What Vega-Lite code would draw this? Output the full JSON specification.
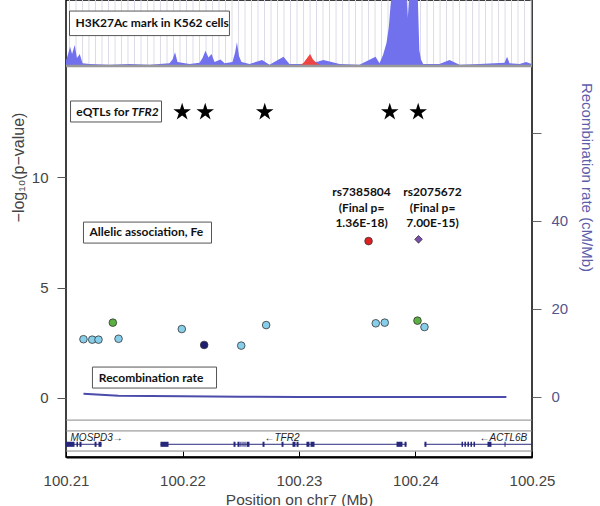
{
  "$schema": "https://vega.github.io/schema/vega-lite/v6.json",
  "width": 466,
  "height": 457,
  "autosize": "none",
  "padding": {"left": 66, "top": 0, "right": 68, "bottom": 49},
  "background": "white",
  "config": {
    "view": {"stroke": "#000", "strokeWidth": 1.5},
    "axis": {"grid": false, "domain": false, "labelFont": "Liberation Sans", "titleFont": "Liberation Sans", "labelFontSize": 15, "titleFontSize": 15, "titleFontWeight": "normal", "labelColor": "#444", "titleColor": "#444", "tickColor": "#555"}
  },
  "datasets": {
    "guides": [
      {"pos": 100.21030}, {"pos": 100.21086}, {"pos": 100.21142}, {"pos": 100.21197}, {"pos": 100.21253}, {"pos": 100.21309}, {"pos": 100.21365}, {"pos": 100.21421}, {"pos": 100.21476}, {"pos": 100.21532},
      {"pos": 100.21588}, {"pos": 100.21644}, {"pos": 100.21700}, {"pos": 100.21755}, {"pos": 100.21811}, {"pos": 100.21867}, {"pos": 100.21923}, {"pos": 100.21979}, {"pos": 100.22034}, {"pos": 100.22090},
      {"pos": 100.22146}, {"pos": 100.22202}, {"pos": 100.22258}, {"pos": 100.22313}, {"pos": 100.22369}, {"pos": 100.22425}, {"pos": 100.22481}, {"pos": 100.22537}, {"pos": 100.22592}, {"pos": 100.22648},
      {"pos": 100.22704}, {"pos": 100.22760}, {"pos": 100.22816}, {"pos": 100.22871}, {"pos": 100.22927}, {"pos": 100.22983}, {"pos": 100.23039}, {"pos": 100.23095}, {"pos": 100.23150}, {"pos": 100.23206},
      {"pos": 100.23262}, {"pos": 100.23318}, {"pos": 100.23374}, {"pos": 100.23429}, {"pos": 100.23485}, {"pos": 100.23541}, {"pos": 100.23597}, {"pos": 100.23653}, {"pos": 100.23708}, {"pos": 100.23764},
      {"pos": 100.23820}, {"pos": 100.23876}, {"pos": 100.23932}, {"pos": 100.23987}, {"pos": 100.24043}, {"pos": 100.24099}, {"pos": 100.24155}, {"pos": 100.24211}, {"pos": 100.24266}, {"pos": 100.24322},
      {"pos": 100.24378}, {"pos": 100.24434}, {"pos": 100.24490}, {"pos": 100.24545}, {"pos": 100.24601}, {"pos": 100.24657}, {"pos": 100.24713}, {"pos": 100.24769}, {"pos": 100.24824}, {"pos": 100.24880},
      {"pos": 100.24936}, {"pos": 100.24992}
    ],
    "h3_blue": [
      {"pos": 100.21000, "sig": 0.8}, {"pos": 100.21013, "sig": 1.5}, {"pos": 100.21035, "sig": 2.9}, {"pos": 100.21052, "sig": 1.8}, {"pos": 100.21075, "sig": 3.2},
      {"pos": 100.21094, "sig": 1.2}, {"pos": 100.21118, "sig": 1.8}, {"pos": 100.21142, "sig": 0.4}, {"pos": 100.21202, "sig": 0.3}, {"pos": 100.21373, "sig": 0.2},
      {"pos": 100.21545, "sig": 0.3}, {"pos": 100.21717, "sig": 0.2}, {"pos": 100.21888, "sig": 0.4}, {"pos": 100.21914, "sig": 1.0}, {"pos": 100.21936, "sig": 2.1},
      {"pos": 100.21957, "sig": 0.6}, {"pos": 100.22060, "sig": 0.3}, {"pos": 100.22146, "sig": 0.5}, {"pos": 100.22172, "sig": 1.2}, {"pos": 100.22197, "sig": 2.3},
      {"pos": 100.22223, "sig": 1.3}, {"pos": 100.22249, "sig": 1.8}, {"pos": 100.22275, "sig": 0.6}, {"pos": 100.22326, "sig": 1.0}, {"pos": 100.22361, "sig": 0.4},
      {"pos": 100.22429, "sig": 0.6}, {"pos": 100.22451, "sig": 2.0}, {"pos": 100.22467, "sig": 3.6}, {"pos": 100.22485, "sig": 1.5}, {"pos": 100.22506, "sig": 0.6},
      {"pos": 100.22575, "sig": 0.3}, {"pos": 100.22683, "sig": 0.9}, {"pos": 100.22747, "sig": 0.2}, {"pos": 100.22867, "sig": 1.4}, {"pos": 100.22918, "sig": 0.3},
      {"pos": 100.23090, "sig": 0.3}, {"pos": 100.23210, "sig": 0.9}, {"pos": 100.23348, "sig": 0.3}, {"pos": 100.23519, "sig": 0.2}, {"pos": 100.23657, "sig": 1.4},
      {"pos": 100.23691, "sig": 0.4}, {"pos": 100.23722, "sig": 1.7}, {"pos": 100.23751, "sig": 3.5}, {"pos": 100.23771, "sig": 5.9}, {"pos": 100.23785, "sig": 9.0},
      {"pos": 100.23803, "sig": 12}, {"pos": 100.23918, "sig": 12}, {"pos": 100.23934, "sig": 7.3}, {"pos": 100.23951, "sig": 12}, {"pos": 100.24017, "sig": 12},
      {"pos": 100.24033, "sig": 2.4}, {"pos": 100.24047, "sig": 1.0}, {"pos": 100.24066, "sig": 0.3}, {"pos": 100.24206, "sig": 0.3}, {"pos": 100.24292, "sig": 0.9},
      {"pos": 100.24378, "sig": 0.2}, {"pos": 100.24549, "sig": 0.3}, {"pos": 100.24764, "sig": 0.5}, {"pos": 100.24786, "sig": 1.4}, {"pos": 100.24807, "sig": 0.4},
      {"pos": 100.24893, "sig": 0.3}, {"pos": 100.24950, "sig": 0.6}, {"pos": 100.24996, "sig": 0.3}
    ],
    "h3_red": [
      {"pos": 100.23000, "sig": 0}, {"pos": 100.23040, "sig": 0.5}, {"pos": 100.23070, "sig": 1.2}, {"pos": 100.23095, "sig": 1.8},
      {"pos": 100.23120, "sig": 1.0}, {"pos": 100.23160, "sig": 0.3}, {"pos": 100.23200, "sig": 0}
    ],
    "recomb": [
      {"pos": 100.2115, "rate": 0.75}, {"pos": 100.2130, "rate": 0.5}, {"pos": 100.2145, "rate": 0.3}, {"pos": 100.2200, "rate": 0.15},
      {"pos": 100.2250, "rate": 0.05}, {"pos": 100.2300, "rate": 0.0}, {"pos": 100.2400, "rate": 0.0}, {"pos": 100.2478, "rate": 0.0}
    ],
    "boxes": [
      {"pos": 100.21030, "pos2": 100.22403, "top": 17.51, "bot": 16.40},
      {"pos": 100.21039, "pos2": 100.21820, "top": 13.44, "bot": 12.49},
      {"pos": 100.21150, "pos2": 100.22249, "top": 7.96, "bot": 7.01},
      {"pos": 100.21227, "pos2": 100.22292, "top": 1.40, "bot": 0.45}
    ],
    "labels": [
      {"pos": 100.21082, "p": 16.96, "text": "H3K27Ac mark in K562 cells"},
      {"pos": 100.21088, "p": 12.94, "text": "eQTLs for"},
      {"pos": 100.21202, "p": 7.50, "text": "Allelic association,  Fe"},
      {"pos": 100.21282, "p": 0.92, "text": "Recombination rate"}
    ],
    "labels_it": [
      {"pos": 100.21562, "p": 12.94, "text": "TFR2"}
    ],
    "genes": [
      {"pos": 100.21000, "pos2": 100.21305},
      {"pos": 100.21811, "pos2": 100.23923},
      {"pos": 100.24077, "pos2": 100.25000}
    ],
    "exons": [
      {"pos": 100.21000, "pos2": 100.21073}, {"pos": 100.21090, "pos2": 100.21103}, {"pos": 100.21116, "pos2": 100.21133},
      {"pos": 100.21245, "pos2": 100.21262}, {"pos": 100.21279, "pos2": 100.21305},
      {"pos": 100.21811, "pos2": 100.21880}, {"pos": 100.22438, "pos2": 100.22455}, {"pos": 100.22472, "pos2": 100.22490},
      {"pos": 100.22497, "pos2": 100.22506}, {"pos": 100.22515, "pos2": 100.22524}, {"pos": 100.22532, "pos2": 100.22541},
      {"pos": 100.22550, "pos2": 100.22575}, {"pos": 100.22687, "pos2": 100.22704}, {"pos": 100.22850, "pos2": 100.22867},
      {"pos": 100.22944, "pos2": 100.22970}, {"pos": 100.22979, "pos2": 100.22996}, {"pos": 100.23064, "pos2": 100.23090},
      {"pos": 100.23099, "pos2": 100.23133}, {"pos": 100.23837, "pos2": 100.23888}, {"pos": 100.23906, "pos2": 100.23923},
      {"pos": 100.24077, "pos2": 100.24094}, {"pos": 100.24395, "pos2": 100.24408}, {"pos": 100.24420, "pos2": 100.24433},
      {"pos": 100.24446, "pos2": 100.24459}, {"pos": 100.24472, "pos2": 100.24485}, {"pos": 100.24498, "pos2": 100.24511},
      {"pos": 100.24618, "pos2": 100.24652}, {"pos": 100.24764, "pos2": 100.24773}
    ],
    "gene_labels": [
      {"pos": 100.21039, "text": "MOSPD3→"},
      {"pos": 100.22704, "text": "←TFR2"},
      {"pos": 100.24549, "text": "←ACTL6B"}
    ],
    "stars": [
      {"pos": 100.21997, "p": 12.94}, {"pos": 100.22195, "p": 12.94}, {"pos": 100.22706, "p": 12.94},
      {"pos": 100.23779, "p": 12.94}, {"pos": 100.24023, "p": 12.94}
    ],
    "snps": [
      {"pos": 100.21150, "p": 2.66, "cat": "lb"},
      {"pos": 100.21225, "p": 2.64, "cat": "lb"},
      {"pos": 100.21279, "p": 2.64, "cat": "lb"},
      {"pos": 100.21402, "p": 3.41, "cat": "green"},
      {"pos": 100.21451, "p": 2.68, "cat": "lb"},
      {"pos": 100.21994, "p": 3.12, "cat": "lb"},
      {"pos": 100.22186, "p": 2.40, "cat": "navy"},
      {"pos": 100.22504, "p": 2.37, "cat": "lb"},
      {"pos": 100.22718, "p": 3.30, "cat": "lb"},
      {"pos": 100.23659, "p": 3.38, "cat": "lb"},
      {"pos": 100.23736, "p": 3.41, "cat": "lb"},
      {"pos": 100.24017, "p": 3.50, "cat": "green"},
      {"pos": 100.24077, "p": 3.21, "cat": "lb"},
      {"pos": 100.23597, "p": 7.10, "cat": "red"},
      {"pos": 100.24026, "p": 7.18, "cat": "purple"}
    ],
    "snp_labels": [
      {"pos": 100.23537, "p": 9.32, "text": "rs7385804\n(Final p=\n1.36E-18)"},
      {"pos": 100.24146, "p": 9.32, "text": "rs2075672\n(Final p=\n7.00E-15)"}
    ]
  },
  "layer": [
    {
      "data": {"name": "guides"},
      "mark": {"type": "rule", "color": "#dcdce8", "strokeWidth": 1},
      "encoding": {
        "x": {
          "field": "pos", "type": "quantitative", "scale": {"domain": [100.21, 100.25]},
          "axis": {"orient": "bottom", "values": [100.21, 100.22, 100.23, 100.24, 100.25], "format": ".2f", "title": "Position on chr7 (Mb)", "domain": true, "domainColor": "#000", "domainWidth": 2, "tickSize": -6, "tickColor": "#000", "labelFlush": false, "labelOverlap": false, "labelPadding": 22, "titlePadding": 4, "titleFontSize": 15.5}
        },
        "y": {"datum": 0, "type": "quantitative", "scale": {"domain": [-59.24, 10]}, "axis": null},
        "y2": {"datum": 10}
      }
    },
    {
      "data": {"name": "h3_blue"},
      "mark": {"type": "area", "color": "#7171ee", "clip": true, "opacity": 1},
      "encoding": {
        "x": {"field": "pos", "type": "quantitative", "scale": {"domain": [100.21, 100.25]}},
        "y": {"field": "sig", "type": "quantitative", "scale": {"domain": [-59.24, 10]}, "axis": null},
        "y2": {"datum": 0}
      }
    },
    {
      "data": {"name": "h3_red"},
      "mark": {"type": "area", "color": "#ee4444", "clip": true, "opacity": 1},
      "encoding": {
        "x": {"field": "pos", "type": "quantitative", "scale": {"domain": [100.21, 100.25]}},
        "y": {"field": "sig", "type": "quantitative", "scale": {"domain": [-59.24, 10]}, "axis": null},
        "y2": {"datum": 0}
      }
    },
    {
      "data": {"name": "recomb"},
      "mark": {"type": "line", "color": "#4b4bab", "strokeWidth": 2},
      "encoding": {
        "x": {"field": "pos", "type": "quantitative", "scale": {"domain": [100.21, 100.25]}},
        "y": {
          "field": "rate", "type": "quantitative", "scale": {"domain": [-13.64, 90.23]},
          "axis": {"orient": "right", "values": [0, 20, 40, 60], "labelExpr": "datum.value == 60 ? '' : datum.label", "title": "Recombination rate (cM/Mb)", "titleAngle": 90, "titleY": 177, "titleColor": "#5d5dab", "labelColor": "#55558c", "tickColor": "#666", "tickSize": 9, "labelPadding": 10, "titlePadding": 11}
        }
      }
    },
    {
      "data": {"values": [{}]},
      "mark": {"type": "rule", "color": "#999", "strokeWidth": 2.5},
      "encoding": {"y": {"datum": 15.02, "type": "quantitative", "scale": {"domain": [-2.67, 18.01]}, "axis": null}}
    },
    {
      "data": {"values": [{}]},
      "mark": {"type": "rule", "color": "#888", "strokeWidth": 1},
      "encoding": {"y": {"datum": -1.0, "type": "quantitative", "scale": {"domain": [-2.67, 18.01]}, "axis": null}}
    },
    {
      "data": {"values": [{}]},
      "mark": {"type": "rule", "color": "#888", "strokeWidth": 1},
      "encoding": {"y": {"datum": -1.49, "type": "quantitative", "scale": {"domain": [-2.67, 18.01]}, "axis": null}}
    },
    {
      "data": {"values": [{}]},
      "mark": {"type": "rule", "color": "#888", "strokeWidth": 1},
      "encoding": {"y": {"datum": -2.40, "type": "quantitative", "scale": {"domain": [-2.67, 18.01]}, "axis": null}}
    },
    {
      "data": {"name": "boxes"},
      "mark": {"type": "rect", "fill": "white", "stroke": "#555", "strokeWidth": 1},
      "encoding": {
        "x": {"field": "pos", "type": "quantitative", "scale": {"domain": [100.21, 100.25]}},
        "x2": {"field": "pos2"},
        "y": {"field": "top", "type": "quantitative", "scale": {"domain": [-2.67, 18.01]}, "axis": null},
        "y2": {"field": "bot"}
      }
    },
    {
      "data": {"name": "labels"},
      "mark": {"type": "text", "align": "left", "baseline": "middle", "font": "Lato", "fontWeight": "bold", "fontSize": 12, "color": "#111"},
      "encoding": {
        "x": {"field": "pos", "type": "quantitative", "scale": {"domain": [100.21, 100.25]}},
        "y": {"field": "p", "type": "quantitative", "scale": {"domain": [-2.67, 18.01]}, "axis": null},
        "text": {"field": "text"}
      }
    },
    {
      "data": {"name": "labels_it"},
      "mark": {"type": "text", "align": "left", "baseline": "middle", "font": "Lato", "fontWeight": "bold", "fontStyle": "italic", "fontSize": 12, "color": "#111"},
      "encoding": {
        "x": {"field": "pos", "type": "quantitative", "scale": {"domain": [100.21, 100.25]}},
        "y": {"field": "p", "type": "quantitative", "scale": {"domain": [-2.67, 18.01]}, "axis": null},
        "text": {"field": "text"}
      }
    },
    {
      "data": {"name": "genes"},
      "mark": {"type": "rule", "color": "#2b2b80", "strokeWidth": 1},
      "encoding": {
        "x": {"field": "pos", "type": "quantitative", "scale": {"domain": [100.21, 100.25]}},
        "x2": {"field": "pos2"},
        "y": {"datum": -2.095, "type": "quantitative", "scale": {"domain": [-2.67, 18.01]}, "axis": null}
      }
    },
    {
      "data": {"name": "exons"},
      "mark": {"type": "rect", "color": "#26267a"},
      "encoding": {
        "x": {"field": "pos", "type": "quantitative", "scale": {"domain": [100.21, 100.25]}},
        "x2": {"field": "pos2"},
        "y": {"datum": -1.98, "type": "quantitative", "scale": {"domain": [-2.67, 18.01]}, "axis": null},
        "y2": {"datum": -2.21}
      }
    },
    {
      "data": {"name": "gene_labels"},
      "mark": {"type": "text", "align": "left", "baseline": "middle", "font": "Liberation Sans", "fontStyle": "italic", "fontSize": 10, "color": "#222"},
      "encoding": {
        "x": {"field": "pos", "type": "quantitative", "scale": {"domain": [100.21, 100.25]}},
        "y": {"datum": -1.81, "type": "quantitative", "scale": {"domain": [-2.67, 18.01]}, "axis": null},
        "text": {"field": "text"}
      }
    },
    {
      "data": {"name": "stars"},
      "mark": {"type": "point", "shape": "M0,-1L0.2245,-0.309L0.951,-0.309L0.363,0.118L0.588,0.809L0,0.382L-0.588,0.809L-0.363,0.118L-0.951,-0.309L-0.2245,-0.309Z", "filled": true, "color": "#000", "size": 340, "opacity": 1},
      "encoding": {
        "x": {"field": "pos", "type": "quantitative", "scale": {"domain": [100.21, 100.25]}},
        "y": {"field": "p", "type": "quantitative", "scale": {"domain": [-2.67, 18.01]}, "axis": null}
      }
    },
    {
      "data": {"name": "snps"},
      "mark": {"type": "point", "filled": true, "stroke": "#333", "strokeWidth": 0.8, "opacity": 1},
      "encoding": {
        "x": {"field": "pos", "type": "quantitative", "scale": {"domain": [100.21, 100.25]}},
        "y": {
          "field": "p", "type": "quantitative", "scale": {"domain": [-2.67, 18.01]},
          "axis": {"orient": "left", "values": [0, 5, 10], "title": "−log₁₀(p−value)", "titleY": 167, "titleFontSize": 16, "tickSize": 9, "labelPadding": 9, "titlePadding": 5}
        },
        "color": {"field": "cat", "type": "nominal", "scale": {"domain": ["lb", "green", "navy", "red", "purple"], "range": ["#87ceeb", "#5ab040", "#1e1e70", "#e02020", "#7a4fa8"]}, "legend": null},
        "shape": {"field": "cat", "type": "nominal", "scale": {"domain": ["lb", "green", "navy", "red", "purple"], "range": ["circle", "circle", "circle", "circle", "diamond"]}, "legend": null},
        "size": {"field": "cat", "type": "nominal", "scale": {"domain": ["lb", "green", "navy", "red", "purple"], "range": [58, 58, 58, 64, 140]}, "legend": null}
      }
    },
    {
      "data": {"name": "snp_labels"},
      "mark": {"type": "text", "align": "center", "baseline": "middle", "lineBreak": "\n", "lineHeight": 15.5, "font": "Lato", "fontWeight": "bold", "fontSize": 12, "color": "#111"},
      "encoding": {
        "x": {"field": "pos", "type": "quantitative", "scale": {"domain": [100.21, 100.25]}},
        "y": {"field": "p", "type": "quantitative", "scale": {"domain": [-2.67, 18.01]}, "axis": null},
        "text": {"field": "text"}
      }
    }
  ],
  "resolve": {"scale": {"y": "independent"}}
}
